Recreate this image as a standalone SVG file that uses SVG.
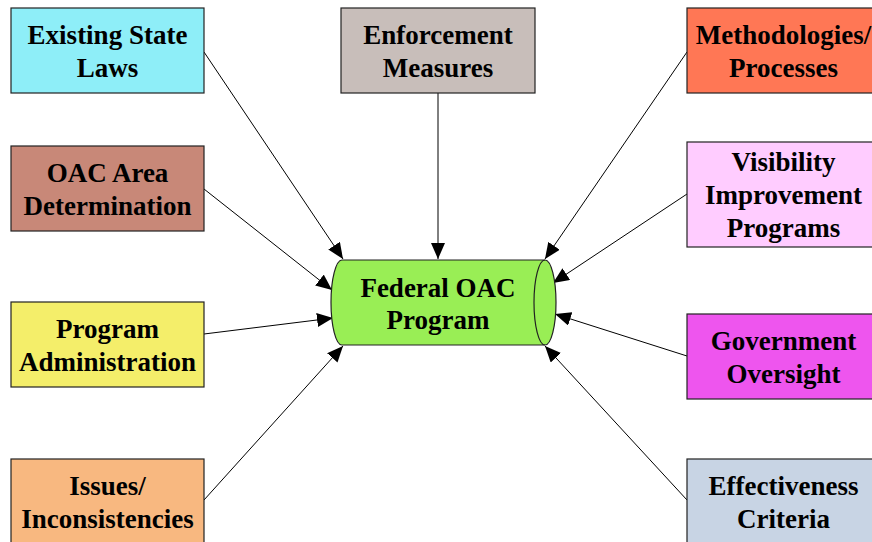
<svg xmlns="http://www.w3.org/2000/svg" width="872" height="542" viewBox="0 0 872 542">
<style>
.box{stroke:#222;stroke-width:1.2}
.t{font-family:"Liberation Serif","Times New Roman",serif;font-weight:bold;font-size:27px;fill:#000;text-anchor:middle}
.c{stroke:#000;stroke-width:1;fill:none;marker-end:url(#ah)}
</style>
<defs>
<marker id="ah" markerUnits="userSpaceOnUse" markerWidth="18" markerHeight="14" refX="16" refY="7" orient="auto">
<path d="M0,0 L16,7 L0,14 z" fill="#000"/>
</marker>
</defs>
<rect width="872" height="542" fill="#fff"/>
<g id="connectors">
<line class="c" x1="204" y1="52" x2="343" y2="259"/>
<line class="c" x1="438" y1="93" x2="438" y2="259"/>
<line class="c" x1="687" y1="52" x2="545" y2="259"/>
<line class="c" x1="204" y1="189" x2="332" y2="290"/>
<line class="c" x1="687" y1="194" x2="553" y2="283"/>
<line class="c" x1="204" y1="334" x2="333" y2="318"/>
<line class="c" x1="687" y1="356" x2="555" y2="314"/>
<line class="c" x1="204" y1="500" x2="343" y2="346"/>
<line class="c" x1="687" y1="500" x2="545" y2="346"/>
</g>
<g id="existing-state-laws">
<rect class="box" x="11" y="8" width="193" height="85" fill="#8EEEF8"/>
<text class="t" x="107.5" y="44">Existing State</text>
<text class="t" x="107.5" y="77">Laws</text>
</g>
<g id="enforcement-measures">
<rect class="box" x="341" y="8" width="194" height="85" fill="#C8BEBA"/>
<text class="t" x="438" y="44">Enforcement</text>
<text class="t" x="438" y="77">Measures</text>
</g>
<g id="methodologies-processes">
<rect class="box" x="687" y="8" width="193" height="85" fill="#FF7755"/>
<text class="t" x="783.5" y="44">Methodologies/</text>
<text class="t" x="783.5" y="77">Processes</text>
</g>
<g id="oac-area-determination">
<rect class="box" x="11" y="146" width="193" height="85" fill="#C88878"/>
<text class="t" x="107.5" y="182">OAC Area</text>
<text class="t" x="107.5" y="215">Determination</text>
</g>
<g id="visibility-improvement-programs">
<rect class="box" x="687" y="142" width="193" height="105" fill="#FFCCFF"/>
<text class="t" x="783.5" y="171">Visibility</text>
<text class="t" x="783.5" y="204">Improvement</text>
<text class="t" x="783.5" y="237">Programs</text>
</g>
<g id="program-administration">
<rect class="box" x="11" y="302" width="193" height="85" fill="#F4EE6A"/>
<text class="t" x="107.5" y="338">Program</text>
<text class="t" x="107.5" y="371">Administration</text>
</g>
<g id="government-oversight">
<rect class="box" x="687" y="314" width="193" height="85" fill="#EE55EE"/>
<text class="t" x="783.5" y="350">Government</text>
<text class="t" x="783.5" y="383">Oversight</text>
</g>
<g id="issues-inconsistencies">
<rect class="box" x="11" y="459" width="193" height="90" fill="#F8B880"/>
<text class="t" x="107.5" y="495">Issues/</text>
<text class="t" x="107.5" y="528">Inconsistencies</text>
</g>
<g id="effectiveness-criteria">
<rect class="box" x="687" y="459" width="193" height="90" fill="#C8D4E4"/>
<text class="t" x="783.5" y="495">Effectiveness</text>
<text class="t" x="783.5" y="528">Criteria</text>
</g>
<g id="federal-oac-program">
<path d="M342,260 L545,260 A11,42.5 0 0 1 545,345 L342,345 A11,42.5 0 0 1 342,260 z" fill="#99EE55" stroke="#222" stroke-width="1.2"/>
<path d="M545,260 A11,42.5 0 0 0 545,345" fill="none" stroke="#222" stroke-width="1.2"/>
<text class="t" x="438" y="297">Federal OAC</text>
<text class="t" x="438" y="329">Program</text>
</g>
</svg>
